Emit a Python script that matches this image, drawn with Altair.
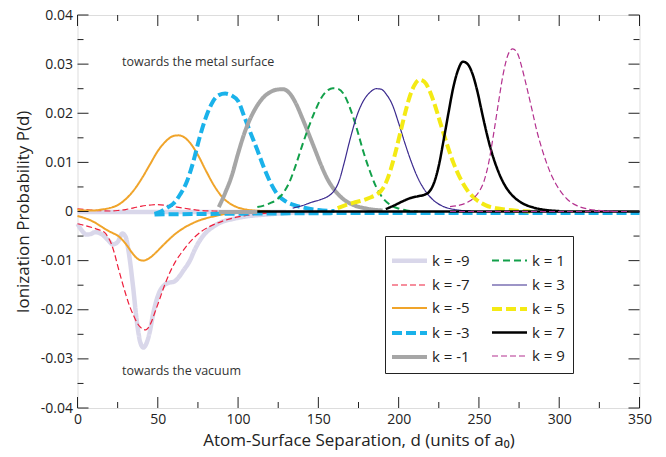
import altair as alt
import pandas as pd

# Ionization probability curves P(d) for each parallel-momentum channel k.
# Each channel has an "up" branch (towards the metal surface) and, where
# drawn, a "down" branch (towards the vacuum).

k_labels = ["k = -9", "k = -7", "k = -5", "k = -3", "k = -1",
            "k = 1", "k = 3", "k = 5", "k = 7", "k = 9"]

# k = -9
km9_down_d = [0, 3, 5.5, 8, 11, 15, 19, 22, 25, 28, 30, 32, 34.5, 37, 39, 41, 43, 45, 47, 49,
              51, 54, 57, 60, 63, 66, 70, 73, 76, 80, 85, 90, 97, 105, 118, 130, 150]
km9_down_p = [-0.0025, -0.0040, -0.0047, -0.0046, -0.0042, -0.0046, -0.0058, -0.0067, -0.0062,
              -0.0045, -0.0052, -0.0085, -0.0150, -0.0225, -0.0265, -0.0277, -0.0268, -0.0245,
              -0.0210, -0.0183, -0.0164, -0.0150, -0.0145, -0.0143, -0.0134, -0.0120, -0.0100,
              -0.0078, -0.0060, -0.0043, -0.0030, -0.0021, -0.0015, -0.0010, -0.0006, -0.0003,
              -0.0001]
km9_up_d = [0, 60, 130]
km9_up_p = [-0.0001, -0.0001, -0.0001]

# k = -7
km7_up_d = [0, 8, 15, 20, 25, 30, 35, 40, 45, 49, 54, 60, 65, 70, 77, 85, 95]
km7_up_p = [0.00055, 0.0003, 0.00015, 0.0001, 0.0002, 0.0004, 0.00075, 0.0011, 0.0013, 0.0014,
            0.0013, 0.0010, 0.00075, 0.0005, 0.0002, 0.0001, 0.0]
km7_down_d = [0, 4, 8.5, 13, 17, 19, 21, 23, 25, 27.5, 30, 32.5, 35, 37, 39, 41, 42.5, 44, 46,
              48, 51, 54, 57, 61, 65, 69, 73, 77, 82, 90, 100, 110, 125]
km7_down_p = [-0.0025, -0.0028, -0.0032, -0.0037, -0.0043, -0.0052, -0.0065, -0.0085, -0.0110,
              -0.0140, -0.0168, -0.0193, -0.0212, -0.0226, -0.0235, -0.0240, -0.0241, -0.0237,
              -0.0225, -0.0207, -0.0180, -0.0152, -0.0128, -0.0102, -0.0083, -0.0066, -0.0052,
              -0.0041, -0.0031, -0.0020, -0.0011, -0.0006, -0.0002]

# k = -5
km5_up_d = [0, 5, 10, 15, 20, 25, 30, 35, 40, 45, 50, 55, 60, 63, 66, 70, 75, 80, 85, 90, 95,
            100, 105, 110, 115, 120]
km5_up_p = [0.0004, 0.0002, 0.0002, 0.0004, 0.0007, 0.0013, 0.0025, 0.0043, 0.0067, 0.0095,
            0.0123, 0.0143, 0.0154, 0.0155, 0.0152, 0.0140, 0.0115, 0.0083, 0.0053, 0.0030,
            0.0016, 0.0008, 0.0004, 0.0002, 0.0001, 0.0]
km5_down_d = [0, 5, 10, 15, 19, 22, 25, 28, 31, 34, 37, 39, 41, 43, 46, 49, 52, 56, 60, 65, 71,
              76, 81, 86, 92, 100, 110, 120]
km5_down_p = [-0.0009, -0.0014, -0.0021, -0.0031, -0.0039, -0.0044, -0.0049, -0.0058, -0.0070,
              -0.0084, -0.0095, -0.0099, -0.0100, -0.0098, -0.0092, -0.0083, -0.0073, -0.0060,
              -0.0048, -0.0036, -0.0025, -0.0018, -0.0013, -0.0009, -0.0005, -0.0003, -0.0001,
              0.0]

# k = -3
km3_up_d = [48, 52, 56, 60, 64, 68, 72, 76, 80, 84, 88, 92, 96, 100, 104, 108, 112, 116, 120,
            125, 130, 136, 142, 150, 160]
km3_up_p = [-0.0005, 0.0000, 0.0008, 0.0017, 0.0035, 0.0060, 0.0100, 0.0150, 0.0192, 0.0222,
            0.0237, 0.0240, 0.0236, 0.0225, 0.0192, 0.0158, 0.0125, 0.0090, 0.0060, 0.0033,
            0.0020, 0.0012, 0.0007, 0.0003, 0.0001]
km3_down_d = [48, 80, 120, 200, 350]
km3_down_p = [-0.0006, -0.0005, -0.0004, -0.0003, -0.0003]

# k = -1
km1_up_d = [88, 92, 96, 100, 104, 108, 112, 116, 120, 124, 128, 132, 136, 140, 144, 148, 152,
            156, 160, 166, 172, 180, 190]
km1_up_p = [0.0009, 0.0038, 0.0072, 0.0118, 0.0160, 0.0192, 0.0216, 0.0233, 0.0243, 0.0248,
            0.0249, 0.0241, 0.0220, 0.0190, 0.0158, 0.0125, 0.0092, 0.0064, 0.0044, 0.0024,
            0.0013, 0.0006, 0.0002]
km1_down_d = [88, 112]
km1_down_p = [-0.0001, -0.0001]

# k = 1
k1_up_d = [112, 116, 120, 124, 128, 132, 136, 140, 144, 148, 152, 156, 159, 162, 166, 170, 174,
           178, 182, 186, 190, 195, 200, 205, 212]
k1_up_p = [0.0009, 0.0012, 0.0017, 0.0024, 0.0037, 0.0060, 0.0095, 0.0135, 0.0172, 0.0205,
           0.0232, 0.0247, 0.0251, 0.0250, 0.0238, 0.0208, 0.0168, 0.0122, 0.0083, 0.0050,
           0.0028, 0.0013, 0.0006, 0.0002, 0.0]

# k = 3
k3_up_d = [134, 140, 146, 152, 157, 160, 163, 166, 170, 174, 178, 182, 186, 189, 192, 196, 200,
           204, 208, 212, 217, 222, 228, 235, 245]
k3_up_p = [0.0007, 0.0012, 0.0019, 0.0025, 0.0033, 0.0043, 0.0063, 0.0098, 0.0150, 0.0195,
           0.0225, 0.0242, 0.0250, 0.0249, 0.0240, 0.0218, 0.0180, 0.0138, 0.0100, 0.0068,
           0.0040, 0.0022, 0.0010, 0.0004, 0.0001]

# k = 5
k5_up_d = [162, 167, 172, 177, 182, 186, 189, 192, 195, 198, 201, 204, 207, 210, 213, 216, 219,
           222, 226, 230, 234, 238, 243, 248, 254, 262, 272, 282]
k5_up_p = [0.0007, 0.0013, 0.0018, 0.0022, 0.0028, 0.0034, 0.0042, 0.0058, 0.0085, 0.0120,
           0.0160, 0.0200, 0.0235, 0.0258, 0.0268, 0.0264, 0.0248, 0.0222, 0.0180, 0.0138,
           0.0100, 0.0070, 0.0042, 0.0025, 0.0013, 0.0006, 0.0002, 0.0]

# k = 7
k7_up_d = [192, 197, 202, 207, 212, 216, 219, 222, 225, 228, 231, 234, 237, 240, 243, 246, 249,
           252, 255, 258, 262, 266, 271, 277, 284, 292, 300]
k7_up_p = [0.0005, 0.0012, 0.0020, 0.0027, 0.0031, 0.0034, 0.0040, 0.0058, 0.0093, 0.0145,
           0.0200, 0.0252, 0.0288, 0.0305, 0.0300, 0.0280, 0.0245, 0.0200, 0.0157, 0.0120,
           0.0082, 0.0054, 0.0032, 0.0017, 0.0008, 0.0003, 0.0001]
k7_down_d = [112, 350]
k7_down_p = [0.0, 0.0]

# k = 9
k9_up_d = [232, 238, 243, 247, 250, 253, 256, 259, 262, 265, 268, 271, 274, 277, 280, 283, 286,
           289, 292, 296, 300, 305, 311, 318, 326, 335]
k9_up_p = [0.0010, 0.0013, 0.0019, 0.0028, 0.0040, 0.0060, 0.0098, 0.0155, 0.0218, 0.0278,
           0.0318, 0.0331, 0.0322, 0.0290, 0.0250, 0.0208, 0.0165, 0.0130, 0.0100, 0.0068,
           0.0045, 0.0025, 0.0012, 0.0005, 0.0002, 0.0]
k9_down_d = [232, 350]
k9_down_p = [0.0, 0.0]

branches = [
    ("k = -9", "down", km9_down_d, km9_down_p),
    ("k = -9", "up", km9_up_d, km9_up_p),
    ("k = -7", "up", km7_up_d, km7_up_p),
    ("k = -7", "down", km7_down_d, km7_down_p),
    ("k = -5", "up", km5_up_d, km5_up_p),
    ("k = -5", "down", km5_down_d, km5_down_p),
    ("k = -3", "down", km3_down_d, km3_down_p),
    ("k = -3", "up", km3_up_d, km3_up_p),
    ("k = -1", "down", km1_down_d, km1_down_p),
    ("k = -1", "up", km1_up_d, km1_up_p),
    ("k = 1", "up", k1_up_d, k1_up_p),
    ("k = 3", "up", k3_up_d, k3_up_p),
    ("k = 5", "up", k5_up_d, k5_up_p),
    ("k = 7", "down", k7_down_d, k7_down_p),
    ("k = 7", "up", k7_up_d, k7_up_p),
    ("k = 9", "down", k9_down_d, k9_down_p),
    ("k = 9", "up", k9_up_d, k9_up_p),
]

rows = []
for label, branch, ds, ps in branches:
    for i, (d, p) in enumerate(zip(ds, ps)):
        rows.append({"k": label, "branch": label + " " + branch, "d": d, "p": p, "idx": i})
curves = pd.DataFrame(rows)

# Styles per channel
line_colors = {
    "k = -9": "#d9d7ea", "k = -7": "#ee1f3c", "k = -5": "#f0a42a", "k = -3": "#1ab2ea",
    "k = -1": "#a6a6a6", "k = 1": "#12a04a", "k = 3": "#3b2a8e", "k = 5": "#f4ea14",
    "k = 7": "#000000", "k = 9": "#b4318f",
}
line_widths = {
    "k = -9": 4.5, "k = -7": 1.2, "k = -5": 2.0, "k = -3": 4.0, "k = -1": 4.0,
    "k = 1": 2.0, "k = 3": 1.2, "k = 5": 4.0, "k = 7": 2.5, "k = 9": 1.2,
}
line_dashes = {
    "k = -9": [1, 0], "k = -7": [6, 3], "k = -5": [1, 0], "k = -3": [10, 4],
    "k = -1": [1, 0], "k = 1": [7, 4], "k = 3": [1, 0], "k = 5": [10, 4],
    "k = 7": [1, 0], "k = 9": [6, 3],
}

W, H = 562, 393
x_scale = alt.Scale(domain=[0, 350], nice=False, zero=False)
y_scale = alt.Scale(domain=[-0.04, 0.04], nice=False, zero=False)

FONT = "Open Sans"

x_axis = alt.Axis(title="Atom-Surface Separation, d (units of a₀)",
                  values=[0, 50, 100, 150, 200, 250, 300, 350],
                  grid=False, ticks=False, domain=False, labelFlush=False,
                  labelFontSize=14, labelPadding=4, labelColor="#222",
                  titleFontSize=17, titleFontWeight="normal", titleColor="#222",
                  titlePadding=6, labelFont=FONT, titleFont=FONT)
y_axis = alt.Axis(title="Ionization Probability P(d)",
                  values=[-0.04, -0.03, -0.02, -0.01, 0, 0.01, 0.02, 0.03, 0.04],
                  labelExpr="datum.value == 0 ? '0' : replace(format(datum.value, '.2f'), '\u2212', '-')",
                  grid=False, ticks=False, domain=False, labelFlush=False,
                  labelFontSize=14, labelPadding=5, labelColor="#222",
                  titleFontSize=17, titleFontWeight="normal", titleColor="#222",
                  titlePadding=8, labelFont=FONT, titleFont=FONT)

lines = alt.Chart(curves).mark_line(interpolate="monotone", strokeCap="butt").encode(
    x=alt.X("d:Q", scale=x_scale, axis=x_axis),
    y=alt.Y("p:Q", scale=y_scale, axis=y_axis),
    color=alt.Color("k:N", scale=alt.Scale(domain=k_labels,
                                           range=[line_colors[k] for k in k_labels]),
                    legend=alt.Legend(title=None, orient="none", legendX=307.5, legendY=221,
                                      columns=2, symbolType="M-1.25,0H1.25", symbolSize=784,
                                      labelFontSize=15, labelFont=FONT, labelColor="#222",
                                      labelOffset=6, columnPadding=14, rowPadding=0,
                                      padding=8, strokeColor="#222", fillColor="white",
                                      labelLimit=100)),
    strokeDash=alt.StrokeDash("k:N", scale=alt.Scale(domain=k_labels,
                                                     range=[line_dashes[k] for k in k_labels]),
                              legend=alt.Legend(title=None)),
    strokeWidth=alt.StrokeWidth("k:N", scale=alt.Scale(type="ordinal", domain=k_labels,
                                                       range=[line_widths[k] for k in k_labels]),
                                legend=alt.Legend(title=None)),
    detail="branch:N",
    order="idx:Q",
)

# Inward-pointing frame ticks
x_major = [0, 50, 100, 150, 200, 250, 300, 350]
x_minor = [25, 75, 125, 175, 225, 275, 325]
y_major = [-0.04, -0.03, -0.02, -0.01, 0, 0.01, 0.02, 0.03, 0.04]
y_minor = [-0.035, -0.025, -0.015, -0.005, 0.005, 0.015, 0.025, 0.035]
MAJ, MIN = 11, 6

def xticks(vals, length):
    df = pd.DataFrame({"t": vals})
    bottom = alt.Chart(df).mark_rule(color="#222", strokeWidth=1).encode(
        x=alt.X("t:Q", scale=x_scale, axis=x_axis),
        y=alt.value(H), y2=alt.value(H - length))
    top = alt.Chart(df).mark_rule(color="#222", strokeWidth=1).encode(
        x=alt.X("t:Q", scale=x_scale, axis=x_axis),
        y=alt.value(0), y2=alt.value(length))
    return [bottom, top]

def yticks(vals, length):
    df = pd.DataFrame({"t": vals})
    left = alt.Chart(df).mark_rule(color="#222", strokeWidth=1).encode(
        y=alt.Y("t:Q", scale=y_scale, axis=y_axis),
        x=alt.value(0), x2=alt.value(length))
    right = alt.Chart(df).mark_rule(color="#222", strokeWidth=1).encode(
        y=alt.Y("t:Q", scale=y_scale, axis=y_axis),
        x=alt.value(W), x2=alt.value(W - length))
    return [left, right]

tick_layers = xticks(x_major, MAJ) + xticks(x_minor, MIN) + yticks(y_major, MAJ) + yticks(y_minor, MIN)

# Direction annotations
note_text = ["towards the metal surface", "towards the vacuum"]
note_d = [27.7, 27.7]
note_p = [0.0304, -0.0325]
notes = alt.Chart(pd.DataFrame({"text": note_text, "d": note_d, "p": note_p})).mark_text(
    align="left", baseline="middle", fontSize=12.5, font=FONT, color="#333"
).encode(
    x=alt.X("d:Q", scale=x_scale, axis=x_axis),
    y=alt.Y("p:Q", scale=y_scale, axis=y_axis),
    text="text:N",
)

chart = alt.layer(lines, *tick_layers, notes).properties(
    width=W, height=H,
    autosize=alt.AutoSizeParams(type="none"),
    padding={"left": 77.5, "top": 15, "right": 26, "bottom": 49},
).configure_view(
    stroke="#111", strokeWidth=1.6
).configure(background="white")

chart.save("out.html", embed_options={"renderer": "svg", "actions": False})
